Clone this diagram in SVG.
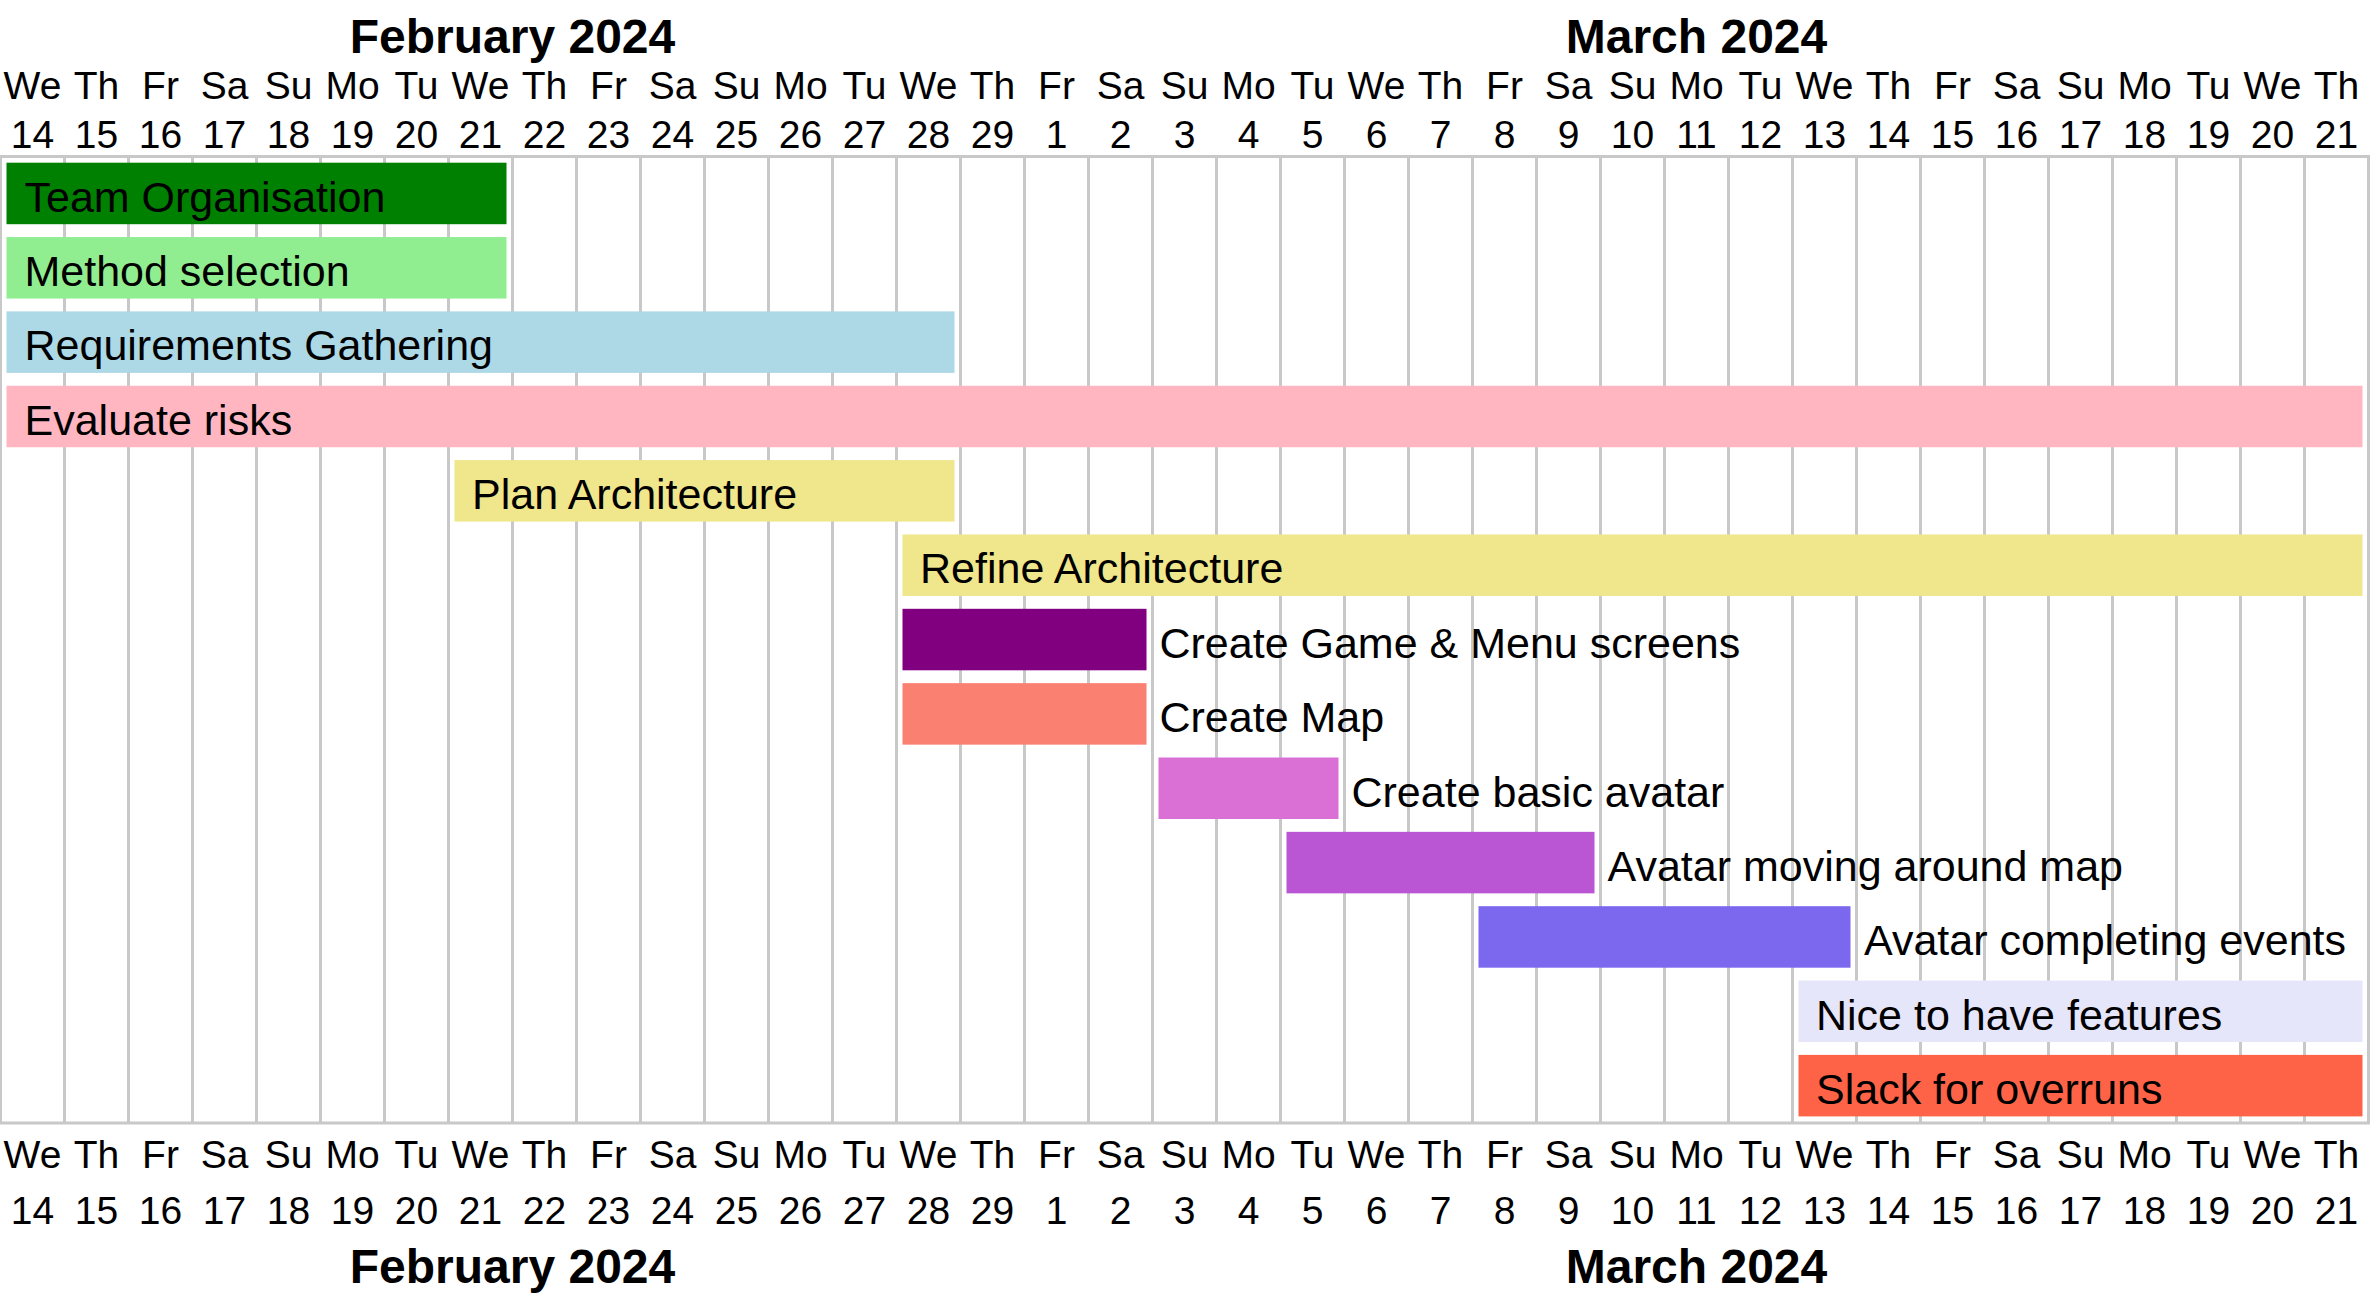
<svg xmlns="http://www.w3.org/2000/svg" width="2372" height="1294" viewBox="0 0 2372 1294">
<style>
text{font-family:"Liberation Sans",Arial,Helvetica,sans-serif;fill:#000}
.month{font-size:48px;font-weight:bold;text-anchor:middle}
.day{font-size:39px;text-anchor:middle}
.lbl{font-size:43px}
.grid line{stroke:#c8c8c8;stroke-width:3}
.frame{fill:none;stroke:#c8c8c8;stroke-width:3}
</style>
<rect width="2372" height="1294" fill="#fff"/>
<g id="header-top">
<text class="month" x="512.5" y="53">February 2024</text>
<text class="month" x="1696.5" y="53">March 2024</text>
<text class="day" y="99"><tspan x="32.5">We</tspan><tspan x="96.5">Th</tspan><tspan x="160.5">Fr</tspan><tspan x="224.5">Sa</tspan><tspan x="288.5">Su</tspan><tspan x="352.5">Mo</tspan><tspan x="416.5">Tu</tspan><tspan x="480.5">We</tspan><tspan x="544.5">Th</tspan><tspan x="608.5">Fr</tspan><tspan x="672.5">Sa</tspan><tspan x="736.5">Su</tspan><tspan x="800.5">Mo</tspan><tspan x="864.5">Tu</tspan><tspan x="928.5">We</tspan><tspan x="992.5">Th</tspan><tspan x="1056.5">Fr</tspan><tspan x="1120.5">Sa</tspan><tspan x="1184.5">Su</tspan><tspan x="1248.5">Mo</tspan><tspan x="1312.5">Tu</tspan><tspan x="1376.5">We</tspan><tspan x="1440.5">Th</tspan><tspan x="1504.5">Fr</tspan><tspan x="1568.5">Sa</tspan><tspan x="1632.5">Su</tspan><tspan x="1696.5">Mo</tspan><tspan x="1760.5">Tu</tspan><tspan x="1824.5">We</tspan><tspan x="1888.5">Th</tspan><tspan x="1952.5">Fr</tspan><tspan x="2016.5">Sa</tspan><tspan x="2080.5">Su</tspan><tspan x="2144.5">Mo</tspan><tspan x="2208.5">Tu</tspan><tspan x="2272.5">We</tspan><tspan x="2336.5">Th</tspan></text>
<text class="day" y="147.5"><tspan x="32.5">14</tspan><tspan x="96.5">15</tspan><tspan x="160.5">16</tspan><tspan x="224.5">17</tspan><tspan x="288.5">18</tspan><tspan x="352.5">19</tspan><tspan x="416.5">20</tspan><tspan x="480.5">21</tspan><tspan x="544.5">22</tspan><tspan x="608.5">23</tspan><tspan x="672.5">24</tspan><tspan x="736.5">25</tspan><tspan x="800.5">26</tspan><tspan x="864.5">27</tspan><tspan x="928.5">28</tspan><tspan x="992.5">29</tspan><tspan x="1056.5">1</tspan><tspan x="1120.5">2</tspan><tspan x="1184.5">3</tspan><tspan x="1248.5">4</tspan><tspan x="1312.5">5</tspan><tspan x="1376.5">6</tspan><tspan x="1440.5">7</tspan><tspan x="1504.5">8</tspan><tspan x="1568.5">9</tspan><tspan x="1632.5">10</tspan><tspan x="1696.5">11</tspan><tspan x="1760.5">12</tspan><tspan x="1824.5">13</tspan><tspan x="1888.5">14</tspan><tspan x="1952.5">15</tspan><tspan x="2016.5">16</tspan><tspan x="2080.5">17</tspan><tspan x="2144.5">18</tspan><tspan x="2208.5">19</tspan><tspan x="2272.5">20</tspan><tspan x="2336.5">21</tspan></text>
</g>
<g id="header-bottom">
<text class="day" y="1168.3"><tspan x="32.5">We</tspan><tspan x="96.5">Th</tspan><tspan x="160.5">Fr</tspan><tspan x="224.5">Sa</tspan><tspan x="288.5">Su</tspan><tspan x="352.5">Mo</tspan><tspan x="416.5">Tu</tspan><tspan x="480.5">We</tspan><tspan x="544.5">Th</tspan><tspan x="608.5">Fr</tspan><tspan x="672.5">Sa</tspan><tspan x="736.5">Su</tspan><tspan x="800.5">Mo</tspan><tspan x="864.5">Tu</tspan><tspan x="928.5">We</tspan><tspan x="992.5">Th</tspan><tspan x="1056.5">Fr</tspan><tspan x="1120.5">Sa</tspan><tspan x="1184.5">Su</tspan><tspan x="1248.5">Mo</tspan><tspan x="1312.5">Tu</tspan><tspan x="1376.5">We</tspan><tspan x="1440.5">Th</tspan><tspan x="1504.5">Fr</tspan><tspan x="1568.5">Sa</tspan><tspan x="1632.5">Su</tspan><tspan x="1696.5">Mo</tspan><tspan x="1760.5">Tu</tspan><tspan x="1824.5">We</tspan><tspan x="1888.5">Th</tspan><tspan x="1952.5">Fr</tspan><tspan x="2016.5">Sa</tspan><tspan x="2080.5">Su</tspan><tspan x="2144.5">Mo</tspan><tspan x="2208.5">Tu</tspan><tspan x="2272.5">We</tspan><tspan x="2336.5">Th</tspan></text>
<text class="day" y="1224.3"><tspan x="32.5">14</tspan><tspan x="96.5">15</tspan><tspan x="160.5">16</tspan><tspan x="224.5">17</tspan><tspan x="288.5">18</tspan><tspan x="352.5">19</tspan><tspan x="416.5">20</tspan><tspan x="480.5">21</tspan><tspan x="544.5">22</tspan><tspan x="608.5">23</tspan><tspan x="672.5">24</tspan><tspan x="736.5">25</tspan><tspan x="800.5">26</tspan><tspan x="864.5">27</tspan><tspan x="928.5">28</tspan><tspan x="992.5">29</tspan><tspan x="1056.5">1</tspan><tspan x="1120.5">2</tspan><tspan x="1184.5">3</tspan><tspan x="1248.5">4</tspan><tspan x="1312.5">5</tspan><tspan x="1376.5">6</tspan><tspan x="1440.5">7</tspan><tspan x="1504.5">8</tspan><tspan x="1568.5">9</tspan><tspan x="1632.5">10</tspan><tspan x="1696.5">11</tspan><tspan x="1760.5">12</tspan><tspan x="1824.5">13</tspan><tspan x="1888.5">14</tspan><tspan x="1952.5">15</tspan><tspan x="2016.5">16</tspan><tspan x="2080.5">17</tspan><tspan x="2144.5">18</tspan><tspan x="2208.5">19</tspan><tspan x="2272.5">20</tspan><tspan x="2336.5">21</tspan></text>
<text class="month" x="512.5" y="1283">February 2024</text>
<text class="month" x="1696.5" y="1283">March 2024</text>
</g>
<g id="grid" class="grid">
<line x1="64.5" y1="156.5" x2="64.5" y2="1123"/><line x1="128.5" y1="156.5" x2="128.5" y2="1123"/><line x1="192.5" y1="156.5" x2="192.5" y2="1123"/><line x1="256.5" y1="156.5" x2="256.5" y2="1123"/><line x1="320.5" y1="156.5" x2="320.5" y2="1123"/><line x1="384.5" y1="156.5" x2="384.5" y2="1123"/><line x1="448.5" y1="156.5" x2="448.5" y2="1123"/><line x1="512.5" y1="156.5" x2="512.5" y2="1123"/><line x1="576.5" y1="156.5" x2="576.5" y2="1123"/><line x1="640.5" y1="156.5" x2="640.5" y2="1123"/><line x1="704.5" y1="156.5" x2="704.5" y2="1123"/><line x1="768.5" y1="156.5" x2="768.5" y2="1123"/><line x1="832.5" y1="156.5" x2="832.5" y2="1123"/><line x1="896.5" y1="156.5" x2="896.5" y2="1123"/><line x1="960.5" y1="156.5" x2="960.5" y2="1123"/><line x1="1024.5" y1="156.5" x2="1024.5" y2="1123"/><line x1="1088.5" y1="156.5" x2="1088.5" y2="1123"/><line x1="1152.5" y1="156.5" x2="1152.5" y2="1123"/><line x1="1216.5" y1="156.5" x2="1216.5" y2="1123"/><line x1="1280.5" y1="156.5" x2="1280.5" y2="1123"/><line x1="1344.5" y1="156.5" x2="1344.5" y2="1123"/><line x1="1408.5" y1="156.5" x2="1408.5" y2="1123"/><line x1="1472.5" y1="156.5" x2="1472.5" y2="1123"/><line x1="1536.5" y1="156.5" x2="1536.5" y2="1123"/><line x1="1600.5" y1="156.5" x2="1600.5" y2="1123"/><line x1="1664.5" y1="156.5" x2="1664.5" y2="1123"/><line x1="1728.5" y1="156.5" x2="1728.5" y2="1123"/><line x1="1792.5" y1="156.5" x2="1792.5" y2="1123"/><line x1="1856.5" y1="156.5" x2="1856.5" y2="1123"/><line x1="1920.5" y1="156.5" x2="1920.5" y2="1123"/><line x1="1984.5" y1="156.5" x2="1984.5" y2="1123"/><line x1="2048.5" y1="156.5" x2="2048.5" y2="1123"/><line x1="2112.5" y1="156.5" x2="2112.5" y2="1123"/><line x1="2176.5" y1="156.5" x2="2176.5" y2="1123"/><line x1="2240.5" y1="156.5" x2="2240.5" y2="1123"/><line x1="2304.5" y1="156.5" x2="2304.5" y2="1123"/>
<rect class="frame" x="0.5" y="156.5" width="2368" height="966.5"/>
</g>
<g id="connectors"/>
<g id="task-team-organisation"><rect x="6.5" y="162.7" width="500" height="61.5" fill="#008000"/><text class="lbl" x="24.5" y="211.7">Team Organisation</text></g>
<g id="task-method-selection"><rect x="6.5" y="237.05" width="500" height="61.5" fill="#90EE90"/><text class="lbl" x="24.5" y="286.05">Method selection</text></g>
<g id="task-requirements-gathering"><rect x="6.5" y="311.4" width="948" height="61.5" fill="#ADD8E6"/><text class="lbl" x="24.5" y="360.4">Requirements Gathering</text></g>
<g id="task-evaluate-risks"><rect x="6.5" y="385.75" width="2356" height="61.5" fill="#FFB6C1"/><text class="lbl" x="24.5" y="434.75">Evaluate risks</text></g>
<g id="task-plan-architecture"><rect x="454.5" y="460.1" width="500" height="61.5" fill="#F0E68C"/><text class="lbl" x="472" y="509.1">Plan Architecture</text></g>
<g id="task-refine-architecture"><rect x="902.5" y="534.45" width="1460" height="61.5" fill="#F0E68C"/><text class="lbl" x="920" y="583.45">Refine Architecture</text></g>
<g id="task-create-game-menu"><rect x="902.5" y="608.8" width="244" height="61.5" fill="#800080"/><text class="lbl" x="1159.5" y="657.8">Create Game &amp; Menu screens</text></g>
<g id="task-create-map"><rect x="902.5" y="683.15" width="244" height="61.5" fill="#FA8072"/><text class="lbl" x="1159.5" y="732.15">Create Map</text></g>
<g id="task-create-basic-avatar"><rect x="1158.5" y="757.5" width="180" height="61.5" fill="#DA70D6"/><text class="lbl" x="1351.5" y="806.5">Create basic avatar</text></g>
<g id="task-avatar-moving"><rect x="1286.5" y="831.85" width="308" height="61.5" fill="#BA55D3"/><text class="lbl" x="1607.5" y="880.85">Avatar moving around map</text></g>
<g id="task-avatar-completing"><rect x="1478.5" y="906.2" width="372" height="61.5" fill="#7B68EE"/><text class="lbl" x="1864" y="955.2">Avatar completing events</text></g>
<g id="task-nice-to-have"><rect x="1798.5" y="980.55" width="564" height="61.5" fill="#E6E6FA"/><text class="lbl" x="1816" y="1029.55">Nice to have features</text></g>
<g id="task-slack"><rect x="1798.5" y="1054.9" width="564" height="61.5" fill="#FF6347"/><text class="lbl" x="1816" y="1103.9">Slack for overruns</text></g>
</svg>
